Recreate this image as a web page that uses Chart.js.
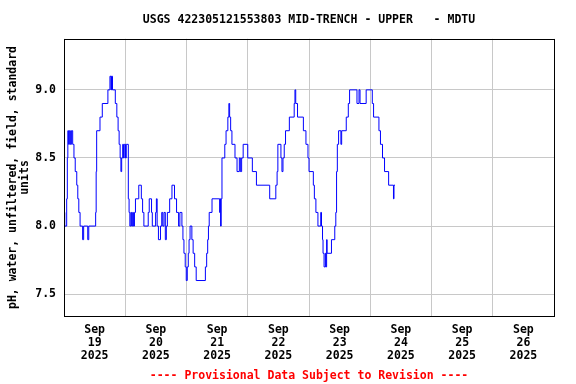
<!DOCTYPE html>
<html>
<head>
<meta charset="utf-8">
<script src="https://cdn.jsdelivr.net/npm/chart.js@4"></script>
<style>
  body { margin: 0; background: #fff; }
  #wrap { width: 576px; height: 384px; }
</style>
</head>
<body>
<div id="wrap"><canvas id="ph" width="576" height="384"></canvas></div>
<script>
// hours since Sep 19 00:00 when the reading changes, and the new pH value
const hours = [
  0.0, 0.3, 1.05, 1.3, 1.5, 1.8, 2.1, 2.5, 2.9, 3.4, 3.9, 4.4, 5.0, 5.4, 5.8, 6.3,
  7.3, 7.7, 9.3, 9.7, 12.4, 12.6, 12.8, 14.1, 15.0, 17.2, 18.0, 18.4, 18.6, 19.0,
  20.1, 20.7, 21.2, 21.6, 22.0, 22.3, 22.6, 23.0, 23.3, 23.6, 24.1, 24.4,
  25.2, 25.5, 25.8, 26.2, 26.5, 26.9, 27.2, 27.6, 28.0, 29.3, 30.3, 30.8, 31.3,
  33.0, 33.4, 34.3, 34.6, 35.9, 36.2, 36.5, 37.0, 37.8, 38.3, 38.7, 39.2, 39.7,
  40.1, 40.5, 41.4, 42.3, 43.3, 44.1, 44.9, 45.4, 46.2, 46.6, 47.0, 47.5, 47.9,
  48.3, 48.7, 49.0, 49.4, 50.1, 50.6, 51.2, 51.8, 55.4, 55.9, 56.3, 56.6, 56.9,
  58.0, 61.0, 61.15, 61.35, 61.6, 61.9, 63.0, 63.5, 64.2, 64.6, 64.9, 65.3, 65.8,
  67.0, 67.8, 68.7, 69.1, 69.6, 70.2, 72.0, 73.8, 75.4, 80.6, 83.0, 83.5, 83.8,
  85.0, 85.4, 85.8, 86.3, 86.8, 88.3, 90.2, 90.5, 90.8, 91.5, 93.8, 94.8, 95.6,
  96.0, 97.7, 98.1, 98.7, 99.5, 100.6, 100.9, 101.3, 101.5, 101.9, 102.4, 102.6,
  102.9, 103.1, 104.8, 106.1, 106.5, 106.8, 107.1, 107.6, 108.5, 108.8, 110.6,
  111.4, 111.9, 114.8, 115.6, 116.0, 118.4, 120.8, 121.3, 123.4, 124.0, 124.8,
  125.6, 127.2, 129.1, 129.3, 129.7
];
const phValues = [
  8.1, 8.0, 8.2, 8.5, 8.7, 8.6, 8.7, 8.6, 8.7, 8.6, 8.5, 8.4, 8.3, 8.2, 8.1, 8.0,
  7.9, 8.0, 7.9, 8.0, 8.1, 8.4, 8.7, 8.8, 8.9, 9.0, 9.1, 9.0, 9.1, 9.0,
  8.9, 8.8, 8.7, 8.6, 8.5, 8.4, 8.5, 8.6, 8.5, 8.6, 8.5, 8.6,
  8.2, 8.1, 8.0, 8.1, 8.0, 8.1, 8.0, 8.1, 8.2, 8.3, 8.2, 8.1, 8.0,
  8.1, 8.2, 8.1, 8.0, 8.1, 8.2, 8.0, 7.9, 8.0, 8.1, 8.0, 8.1, 7.9,
  8.0, 8.1, 8.2, 8.3, 8.2, 8.1, 8.0, 8.1, 8.0, 7.9, 7.8, 7.7, 7.6,
  7.7, 7.8, 7.9, 8.0, 7.9, 7.8, 7.7, 7.6, 7.7, 7.8, 7.9, 8.0, 8.1,
  8.2, 8.1, 8.2, 8.0, 8.2, 8.5, 8.6, 8.7, 8.8, 8.9, 8.8, 8.7, 8.6,
  8.5, 8.4, 8.5, 8.4, 8.5, 8.6, 8.5, 8.4, 8.3, 8.2, 8.3, 8.4, 8.6,
  8.5, 8.4, 8.5, 8.6, 8.7, 8.8, 8.9, 9.0, 8.9, 8.8, 8.7, 8.6, 8.5,
  8.4, 8.3, 8.2, 8.1, 8.0, 8.1, 8.0, 7.9, 7.8, 7.7, 7.8, 7.7,
  7.9, 7.8, 7.9, 8.0, 8.1, 8.4, 8.6, 8.7, 8.6, 8.7, 8.8,
  8.9, 9.0, 8.9, 9.0, 8.9, 9.0, 8.9, 8.8, 8.7, 8.6, 8.5,
  8.4, 8.3, 8.2, 8.3, 8.3
];

const days = ["19", "20", "21", "22", "23", "24", "25", "26"];
const yTicks = [7.5, 8.0, 8.5, 9.0];
const yMin = 7.338;
const yMax = 9.375;

const monoFont = { family: "'DejaVu Sans Mono', monospace", size: 11.5, weight: "bold" };

// black box round the plot area
const frame = {
  id: "frame",
  afterDraw(chart) {
    const a = chart.chartArea;
    const ctx = chart.ctx;
    ctx.save();
    ctx.strokeStyle = "#000";
    ctx.lineWidth = 1;
    ctx.strokeRect(Math.round(a.left) + 0.5, Math.round(a.top) + 0.5,
      Math.round(a.right - a.left), Math.round(a.bottom - a.top));
    ctx.restore();
  }
};

const points = hours.map((h, i) => ({ x: h, y: phValues[i] }));

new Chart(document.getElementById("ph"), {
  type: "line",
  data: {
    datasets: [{
      data: points,
      borderColor: "#0000ff",
      borderWidth: 1,
      pointRadius: 0,
      stepped: true,
      fill: false
    }]
  },
  options: {
    responsive: false,
    animation: false,
    layout: { padding: { left: 0, right: 22, top: 0, bottom: 0 } },
    plugins: {
      legend: { display: false },
      tooltip: { enabled: false },
      title: {
        display: true,
        text: "USGS 422305121553803 MID-TRENCH - UPPER   - MDTU",
        color: "#000",
        font: monoFont,
        fullSize: false,
        padding: { top: 13, bottom: 12 }
      },
      subtitle: {
        display: true,
        position: "bottom",
        text: "---- Provisional Data Subject to Revision ----",
        color: "#ff0000",
        font: monoFont,
        fullSize: false,
        padding: { top: 5, bottom: 1 }
      }
    },
    scales: {
      x: {
        type: "linear",
        min: 0,
        max: 192,
        afterFit(scale) { scale.height = 48; },
        ticks: {
          stepSize: 12,
          autoSkip: false,
          maxRotation: 0,
          color: "#000",
          font: { ...monoFont, lineHeight: 1.13 },
          padding: 7,
          callback(value) {
            if (value % 24 !== 12) return "";
            return ["Sep", days[Math.floor(value / 24)], "2025"];
          }
        },
        grid: {
          drawTicks: false,
          color(ctx) {
            return ctx.tick && ctx.tick.value % 24 === 0 ? "#c8c8c8" : "rgba(0,0,0,0)";
          }
        },
        border: { display: false }
      },
      y: {
        min: yMin,
        max: yMax,
        afterFit(scale) { scale.width = 64; },
        afterBuildTicks(scale) {
          scale.ticks = yTicks.map((v) => ({ value: v }));
        },
        ticks: {
          color: "#000",
          font: monoFont,
          padding: 8,
          callback(value) { return value.toFixed(1); }
        },
        grid: { drawTicks: false, color: "#c8c8c8" },
        border: { display: false },
        title: {
          display: true,
          text: ["pH, water, unfiltered, field, standard", "units"],
          color: "#000",
          font: { ...monoFont, lineHeight: 1.05 },
          padding: { top: 7, bottom: 0 }
        }
      }
    }
  },
  plugins: [frame]
});
</script>
</body>
</html>
